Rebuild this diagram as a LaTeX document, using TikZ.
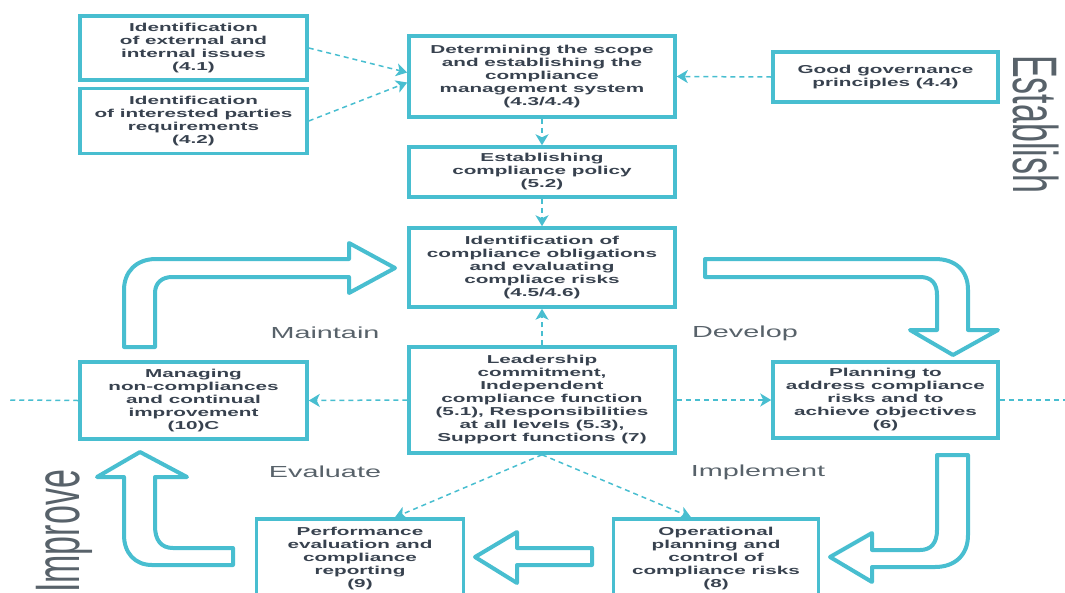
\documentclass[tikz,border=0pt]{standalone}
\usepackage{fontspec}
\usepackage{xcolor}
\usepackage{tikz}
\usetikzlibrary{arrows.meta,positioning}
\definecolor{teal1}{RGB}{72,190,208}
\definecolor{ink}{RGB}{56,66,79}
\definecolor{greyink}{RGB}{88,98,106}
\newfontfamily\widefont{Liberation Sans}[FakeStretch=1.8]
\newfontfamily\sidefont{Liberation Sans}

\begin{document}
\begin{tikzpicture}[x=1pt, y=-1pt,
    box/.style={draw=teal1, line width=3.5pt, fill=white, align=center, inner sep=0pt,
        text=ink, font=\widefont\bfseries\fontsize{11.5}{13}\selectfont},
    dashline/.style={draw=teal1, line width=1.5pt, dash pattern=on 5pt off 4pt},
    dashlink/.style={dashline, -{Stealth[length=11pt,width=13pt,inset=3pt]}},
    bigarrow/.style={draw=teal1, line width=4pt, line join=round, fill=white},
    phase/.style={text=greyink, font=\widefont\fontsize{16}{18}\selectfont},
    side/.style={text=greyink, font=\sidefont\fontsize{34}{40}\selectfont, inner sep=0pt}]
    \useasboundingbox (0,0) rectangle (1065,592);
    \clip (0,0) rectangle (1065,592);

    \node[box, minimum width=227pt, minimum height=64pt] (ext) at (193.5,48)
        {Identification\\of external and\\internal issues\\(4.1)};
    \node[box, minimum width=227pt, minimum height=65pt] (ipart) at (193.5,121)
        {Identification\\of interested parties\\requirements\\(4.2)};
    \node[box, minimum width=266pt, minimum height=81pt] (scope) at (542,76.5)
        {Determining the scope\\and establishing the\\compliance\\management system\\(4.3/4.4)};
    \node[box, minimum width=266pt, minimum height=50pt] (policy) at (542,172)
        {Establishing\\compliance policy\\(5.2)};
    \node[box, minimum width=266pt, minimum height=79pt] (oblig) at (542,267.5)
        {Identification of\\compliance obligations\\and evaluating\\compliace risks\\(4.5/4.6)};
    \node[box, minimum width=225pt, minimum height=50pt] (gov) at (885.5,77)
        {Good governance\\principles (4.4)};
    \node[box, minimum width=266pt, minimum height=106pt] (lead) at (542,400)
        {Leadership\\commitment,\\Independent\\compliance function\\(5.1), Responsibilities\\at all levels (5.3),\\Support functions (7)};
    \node[box, minimum width=227pt, minimum height=77pt] (nonconf) at (193.5,400.5)
        {Managing\\non-compliances\\and continual\\improvement\\(10)C};
    \node[box, minimum width=225pt, minimum height=76pt] (plan) at (885.5,400)
        {Planning to\\address compliance\\risks and to\\achieve objectives\\(6)};
    \node[box, minimum width=207pt, minimum height=80pt] (perf) at (360,559)
        {Performance\\evaluation and\\compliance\\reporting\\(9)};
    \node[box, minimum width=205pt, minimum height=80pt] (oper) at (716,559)
        {Operational\\planning and\\control of\\compliance risks\\(8)};

    \draw[dashlink] (ext.east) -- ([yshift=4pt]scope.west);
    \draw[dashlink] (ipart.east) -- ([yshift=-6pt]scope.west);
    \draw[dashlink] (gov.west) -- (scope.east);
    \draw[dashlink] (scope.south) -- (policy.north);
    \draw[dashlink] (policy.south) -- (oblig.north);
    \draw[dashlink] (lead.north) -- (oblig.south);
    \draw[dashlink] (lead.west) -- (nonconf.east);
    \draw[dashlink] (lead.east) -- (plan.west);
    \draw[dashlink] (lead.south) -- ([xshift=35pt]perf.north);
    \draw[dashlink] (lead.south) -- ([xshift=-25pt]oper.north);
    \coordinate (lend) at (10,400);
    \coordinate (rend) at (1065,400);
    \draw[dashline] (nonconf.west) -- (lend);
    \draw[dashline] (plan.east) -- (rend);

    \draw[bigarrow] (124,347) -- (124,290) .. controls (124,272) and (136,259) .. (156,259)
        -- (349,259) -- (349,243) -- (395,268) -- (349,293) -- (349,277) -- (172,277)
        .. controls (162,277) and (155,283) .. (155,293) -- (155,347) -- cycle;
    \draw[bigarrow] (705,259) -- (935,259) .. controls (955,259) and (968,270) .. (968,290)
        -- (968,330) -- (998,330) -- (953,355) -- (910,330) -- (937,330) -- (937,295)
        .. controls (937,284) and (932,277) .. (920,277) -- (705,277) -- cycle;
    \draw[bigarrow] (937,455) -- (968,455) -- (968,535) .. controls (968,555) and (955,567) .. (935,567)
        -- (872,567) -- (872,582) -- (830,557) -- (872,533) -- (872,550) -- (920,550)
        .. controls (931,550) and (937,543) .. (937,530) -- cycle;
    \draw[bigarrow] (592,548) -- (592,565) -- (517,565) -- (517,583) -- (475,557)
        -- (517,532) -- (517,548) -- cycle;
    \draw[bigarrow] (233,548) -- (233,565) -- (152,565) .. controls (135,565) and (124,553) .. (124,535)
        -- (124,477) -- (97,477) -- (140,452) -- (187,477) -- (155,477) -- (155,526)
        .. controls (155,540) and (161,548) .. (173,548) -- cycle;

    \node[phase] (maintain) at (325,333) {Maintain};
    \node[phase] (develop) at (745,333) {Develop};
    \node[phase] (evaluate) at (325,472) {Evaluate};
    \node[phase] (implement) at (758,472) {Implement};

    \node[side, xscale=1.85, rotate=-90, anchor=base west] (establish) at (1013,55) {Establish};
    \node[side, xscale=1.85, rotate=90, anchor=base west] (improve) at (79,593) {Improve};
\end{tikzpicture}
\end{document}
